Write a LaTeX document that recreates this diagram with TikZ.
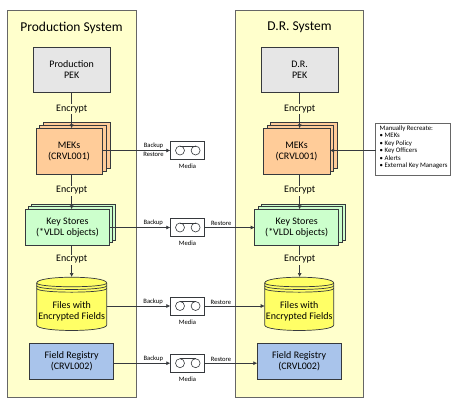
\documentclass[tikz,border=0pt]{standalone}
\usepackage{fontspec}
\setmainfont{Carlito}
\usetikzlibrary{arrows.meta}
\definecolor{edgec}{HTML}{36393D}
\definecolor{panelc}{HTML}{FFFFCC}
\definecolor{pekc}{HTML}{E6E6E6}
\definecolor{mekc}{HTML}{FFCC99}
\definecolor{ksc}{HTML}{CCFFCC}
\definecolor{cylc}{HTML}{FFFF66}
\definecolor{frc}{HTML}{A9C4EB}
\tikzset{
  x=1pt,y=-1pt,
  every node/.style={inner sep=0pt,outer sep=0pt,align=center,text=black},
  panel/.style={draw=black!60,line width=0.8pt,fill=panelc},
  box/.style={draw=edgec,line width=0.7pt},
  conn/.style={draw=edgec,line width=0.6pt,-{Latex[length=4pt,width=4pt]}},
  main/.style={font=\fontsize{10}{11}\selectfont},
  encl/.style={font=\fontsize{10}{11}\selectfont,fill=panelc,inner sep=1pt},
  small/.style={font=\fontsize{6.6}{7.5}\selectfont},
  title/.style={font=\fontsize{13.5}{16}\selectfont},
  media/.style={draw=edgec,line width=0.6pt,fill=white,minimum width=34.4pt,minimum height=18.4pt},
}
\newcommand{\rectnode}[7]{% name, x0,y0,x1,y1, style, text
  \node[#6,minimum width={(#4-#2)*1pt},minimum height={(#5-#3)*1pt},anchor=north west] (#1) at (#2,#3) {#7};}
\newcommand{\mediabox}[2]{% name, ycentre
  \node[media] (#1) at (187.5,#2) {};
  \draw[edgec,line width=0.6pt] (180,#2) circle[radius=4.5];
  \draw[edgec,line width=0.6pt] (195.6,#2) circle[radius=4.5];
  \draw[edgec,line width=0.6pt] (180,#2-4.5) -- (195.6,#2-4.5);
  \node[small] at (187.5,#2+16) {Media};}
\newcommand{\cylbody}[2]{% x0,x1
  \draw[edgec,fill=cylc,line width=0.7pt] (#1,283) -- (#1,325)
    .. controls (#1,332.3) and (#2,332.3) .. (#2,325) -- (#2,283)
    .. controls (#2,275.3) and (#1,275.3) .. (#1,283) -- cycle;
  \draw[edgec,line width=0.7pt] (#1,283) .. controls (#1,288) and (#2,288) .. (#2,283);
  \draw[edgec,line width=0.7pt] (#1,285.7) .. controls (#1,290.7) and (#2,290.7) .. (#2,285.7);
  \draw[edgec,line width=0.7pt] (#1,288.4) .. controls (#1,293.4) and (#2,293.4) .. (#2,288.4);
}
\begin{document}
\begin{tikzpicture}
\useasboundingbox (0,0) rectangle (461,405);
% panels
\rectnode{pL}{7.5}{10}{136}{397}{panel}{}
\rectnode{pR}{235.5}{10}{363.5}{397}{panel}{}
\node[title] (tL) at (71.5,27.5) {Production System};
\node[title] (tR) at (299.5,27.5) {D.R. System};
% PEK
\rectnode{pekL}{33.3}{47}{110}{92.3}{box,fill=pekc,main}{Production\\PEK}
\rectnode{pekR}{261.3}{47}{338}{92.3}{box,fill=pekc,main}{D.R.\\PEK}
% MEK stacks
\rectnode{mekLc}{43.3}{122.3}{110}{168.3}{box,fill=mekc}{}
\rectnode{mekLb}{39.8}{125.2}{106.3}{171.2}{box,fill=mekc}{}
\rectnode{mekL}{36}{128.3}{102}{174}{box,fill=mekc,main}{MEKs\\(CRVL001)}
\rectnode{mekRc}{270.5}{122.3}{337}{168.3}{box,fill=mekc}{}
\rectnode{mekRb}{267}{125.2}{333.5}{171.2}{box,fill=mekc}{}
\rectnode{mekR}{263}{128.3}{330}{174}{box,fill=mekc,main}{MEKs\\(CRVL001)}
% Key store stacks
\rectnode{ksLc}{31.5}{204}{115.7}{240}{box,fill=ksc}{}
\rectnode{ksLb}{28.6}{206.6}{112.6}{242.6}{box,fill=ksc}{}
\rectnode{ksL}{25.7}{209.3}{109.3}{245.3}{box,fill=ksc,main}{Key Stores\\(*VLDL objects)}
\rectnode{ksRc}{261}{204}{345}{240}{box,fill=ksc}{}
\rectnode{ksRb}{258}{206.6}{342}{242.6}{box,fill=ksc}{}
\rectnode{ksR}{254.7}{209.3}{338.7}{245.3}{box,fill=ksc,main}{Key Stores\\(*VLDL objects)}
% cylinders
\cylbody{36.7}{106.7}
\cylbody{264.7}{333.7}
\node[main,minimum width=70pt,minimum height=53.7pt,anchor=north west] (cylL) at (36.7,277) {};
\node[main,minimum width=69pt,minimum height=53.7pt,anchor=north west] (cylR) at (264.7,277) {};
\node[main] (fL) at (71.7,311) {Files with\\Encrypted Fields};
\node[main] (fR) at (299.3,311) {Files with\\Encrypted Fields};
% field registry
\rectnode{frL}{29.7}{343.7}{113.7}{379.7}{box,fill=frc,main}{Field Registry\\(CRVL002)}
\rectnode{frR}{257.3}{343.7}{341}{379.7}{box,fill=frc,main}{Field Registry\\(CRVL002)}
% media
\mediabox{m1}{150.5}
\mediabox{m2}{227.5}
\mediabox{m3}{306}
\mediabox{m4}{363.2}
% manual box
\rectnode{man}{375.7}{123.7}{450}{175}{draw=black!60,line width=0.7pt,fill=white}{}
\node[anchor=north west,align=left,font=\fontsize{6.8}{7.5}\selectfont] (mant) at (379.7,125.6) {Manually Recreate:\\\textbullet\ MEKs\\\textbullet\ Key Policy\\\textbullet\ Key Officers\\\textbullet\ Alerts\\\textbullet\ External Key Managers};
% vertical connectors
\draw[conn] (pekL.south) -- node[encl,pos=0.47]{Encrypt} (pekL.south |- mekL.north);
\draw[conn] (pekR.south) -- node[encl,pos=0.47]{Encrypt} (pekR.south |- mekR.north);
\draw[conn] (pekL.south |- mekL.south) -- node[encl,pos=0.47]{Encrypt} (pekL.south |- ksL.north);
\draw[conn] (pekR.south |- mekR.south) -- node[encl,pos=0.47]{Encrypt} (pekR.south |- ksR.north);
\draw[conn] (pekL.south |- ksL.south) -- node[encl,pos=0.45]{Encrypt} (pekL.south |- cylL.north);
\draw[conn] (pekR.south |- ksR.south) -- node[encl,pos=0.45]{Encrypt} (pekR.south |- cylR.north);
% horizontal connectors
\draw[conn] (mekL.east |- m1.west) -- (m1.west);
\node[small] (bk1) at (153.5,146) {Backup};
\node[small] (rs1) at (153.5,154.5) {Restore};
\draw[conn] (ksL.east |- m2.west) -- node[small,above=1.5pt,pos=0.72]{Backup} (m2.west);
\draw[conn] (cylL.east |- m3.west) -- node[small,above=1.5pt,pos=0.73]{Backup} (m3.west);
\draw[conn] (frL.east |- m4.west) -- node[small,above=1.5pt,pos=0.70]{Backup} (m4.west);
\draw[conn] (m2.east) -- node[small,above=1.5pt,pos=0.33]{Restore} (ksR.west |- m2.east);
\draw[conn] (m3.east) -- node[small,above=1.5pt,pos=0.27]{Restore} (cylR.west |- m3.east);
\draw[conn] (m4.east) -- node[small,above=1.5pt,pos=0.31]{Restore} (frR.west |- m4.east);
\draw[conn] (man.west |- m1.west) -- (mekR.east |- m1.west);
\end{tikzpicture}
\end{document}
